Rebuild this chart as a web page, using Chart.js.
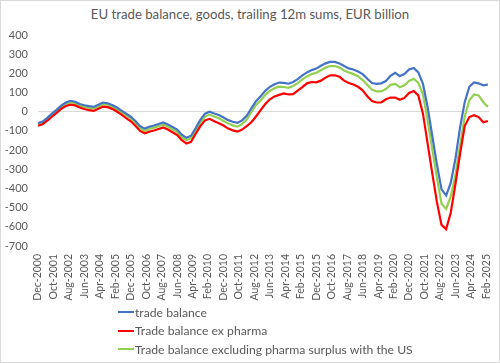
<!DOCTYPE html>
<html>
<head>
<meta charset="utf-8">
<script src="https://cdn.jsdelivr.net/npm/chart.js@4"></script>
<style>
  html, body { margin: 0; padding: 0; background: #fff; }
  #wrap {
    position: relative; width: 498px; height: 361px;
    border: 1px solid #d9d9d9; background: #fff;
    font-family: Lato, "Liberation Sans", sans-serif; color: #595959;
  }
  #title {
    position: absolute; top: 5px; left: 0; width: 100%;
    text-align: center; font-size: 13.2px;
  }
  #chart { position: absolute; top: 0; left: 0; }
  #legend { position: absolute; left: 117px; top: 302px; font-size: 12.2px; }
  .row { height: 18.5px; display: flex; align-items: center; }
  .swatch { width: 16px; height: 2px; margin-right: 1px; }
</style>
</head>
<body>
<div id="wrap">
  <div id="title">EU trade balance, goods, trailing 12m sums, EUR billion</div>
  <canvas id="chart" width="498" height="305"></canvas>
  <div id="legend"></div>
</div>
<script>
// monthly categories, Dec-2000 .. Apr-2025
const monthNames = ['Jan', 'Feb', 'Mar', 'Apr', 'May', 'Jun', 'Jul', 'Aug', 'Sep', 'Oct', 'Nov', 'Dec'];
const months = [];
for (let i = 0; i < 293; i++) {
    const k = 11 + i;
    months.push(monthNames[k % 12] + '-' + (2000 + Math.floor(k / 12)));
}

// values, one every 3 months starting Dec-2000
const tradeBalance = [
    -59, -51, -32, -10, 10, 32, 48, 57, 52, 40,
    34, 29, 25, 36, 48, 44, 35, 22, 6, -10,
    -26, -48, -75, -88, -78, -72, -64, -56, -66, -80,
    -93, -120, -136, -125, -85, -42, -10, 0, -9, -17,
    -30, -44, -52, -58, -45, -21, 18, 55, 80, 109,
    130, 143, 152, 150, 146, 155, 170, 190, 205, 217,
    225, 240, 252, 260, 260, 252, 238, 226, 220, 210,
    196, 172, 150, 145, 148, 160, 187, 203, 186, 196,
    220, 228, 205, 145, 25, -125, -273, -405, -437, -370,
    -245, -82, 50, 130, 153, 148, 138, 142
];
const exPharma = [
    -73, -65, -47, -26, -6, 15, 30, 37, 33, 22,
    14, 8, 4, 15, 27, 24, 15, 1, -15, -33,
    -50, -73, -100, -112, -104, -98, -90, -82, -93, -107,
    -121, -148, -166, -157, -115, -75, -45, -37, -50, -60,
    -72, -88, -97, -104, -93, -75, -55, -25, 8, 40,
    65, 80, 88, 95, 90, 92, 110, 128, 148, 155,
    153, 162, 178, 190, 190, 182, 162, 150, 142, 130,
    112, 80, 56, 48, 48, 65, 74, 74, 62, 72,
    98, 108, 85, -10, -165, -320, -470, -590, -612, -525,
    -377, -220, -75, -28, -18, -28, -55, -48
];
const exPharmaUS = [
    -66, -58, -39, -17, 3, 24, 40, 49, 44, 32,
    26, 20, 16, 27, 39, 35, 26, 13, -3, -19,
    -36, -58, -86, -99, -89, -83, -75, -68, -78, -92,
    -105, -133, -149, -138, -98, -56, -25, -15, -25, -34,
    -48, -62, -71, -78, -65, -41, -2, 35, 59, 88,
    109, 122, 131, 129, 125, 134, 149, 169, 184, 196,
    203, 216, 230, 238, 238, 230, 215, 205, 196, 185,
    165, 140, 116, 106, 106, 118, 140, 145, 128, 138,
    160, 172, 150, 90, -45, -195, -342, -480, -507, -440,
    -330, -175, -25, 60, 90, 85, 50, 25
];

const seriesNames = ['trade balance', 'Trade balance ex pharma', 'Trade balance excluding pharma surplus with the US'];
const seriesColors = ['#4472C4', '#FF0000', '#92D050'];

// put the quarterly values on the monthly axis
const toMonthly = (vals) => {
    const out = new Array(months.length).fill(null);
    vals.forEach((v, i) => { out[i * 3] = v; });
    return out;
};

const datasets = [tradeBalance, exPharma, exPharmaUS].map((vals, i) => ({
    label: seriesNames[i],
    data: toMonthly(vals),
    borderColor: seriesColors[i],
    borderWidth: 2.2,
    pointRadius: 0,
    tension: 0,
    spanGaps: true,
}));

const font = { family: 'Lato, "Liberation Sans", sans-serif', size: 11 };

new Chart(document.getElementById('chart'), {
    type: 'line',
    data: { labels: months, datasets: datasets },
    options: {
        responsive: false,
        animation: false,
        layout: { padding: { top: 34, right: 7, bottom: 0, left: 0 } },
        plugins: { legend: { display: false }, title: { display: false }, tooltip: { enabled: false } },
        scales: {
            x: {
                grid: { display: false },
                border: { display: false },
                ticks: {
                    autoSkip: false,
                    maxRotation: 90,
                    minRotation: 90,
                    padding: 0,
                    color: '#595959',
                    font: { family: font.family, size: 10.5 },
                    callback: (v, i) => (i % 10 === 0 ? months[i] : null),
                },
                afterFit: (scale) => { scale.height = 60; },
            },
            y: {
                min: -700,
                max: 400,
                border: { display: false },
                grid: {
                    drawTicks: false,
                    color: (c) => (c.tick && c.tick.value === 0 ? '#d9d9d9' : 'rgba(0,0,0,0)'),
                },
                ticks: { stepSize: 100, padding: 10, color: '#595959', font: font },
                afterFit: (scale) => { scale.width = 37; },
            },
        },
    },
});

// legend, one series per row
const legend = document.getElementById('legend');
seriesNames.forEach((name, i) => {
    const row = document.createElement('div');
    row.className = 'row';
    row.innerHTML = '<span class="swatch" style="background:' + seriesColors[i] + '"></span>' + name;
    legend.appendChild(row);
});
</script>
</body>
</html>
